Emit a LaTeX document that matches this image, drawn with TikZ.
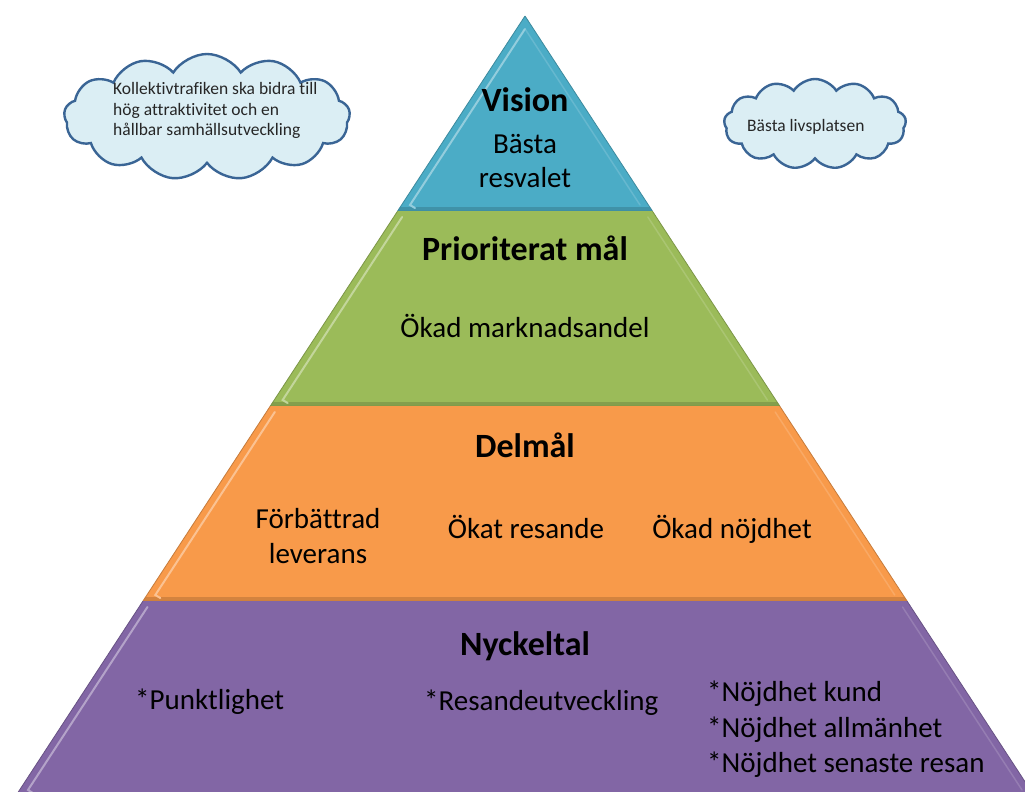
\documentclass[tikz,border=0pt]{standalone}
\usepackage{fontspec}
\setmainfont{Carlito}[Ligatures=NoCommon]
\usetikzlibrary{shapes.symbols}
\definecolor{vblue}{HTML}{4BACC6}
\definecolor{pgreen}{HTML}{9BBB59}
\definecolor{dorange}{HTML}{F89A4A}
\definecolor{npurple}{HTML}{8266A5}
\definecolor{cloudfill}{HTML}{DBEEF4}
\definecolor{cloudline}{HTML}{3A6595}
\definecolor{cloudtext}{HTML}{262626}
\newcommand\pyrlayer[3]{%
  \pgfmathsetmacro\pwA{0.653*(#1-16)}%
  \pgfmathsetmacro\pwB{0.653*(#2-16)}%
  \pgfmathsetmacro\pyA{max(#1+6,29)}%
  \pgfmathsetmacro\pyB{#2-6}%
  \pgfmathsetmacro\piA{max(0,0.653*(\pyA-16)-8.4)}%
  \pgfmathsetmacro\piB{0.653*(\pyB-16)-8.4}%
  \fill[#3] (525-\pwA,#1) -- (525+\pwA,#1) -- (525+\pwB,#2) -- (525-\pwB,#2) -- cycle;
  \fill[#3!85!black] (525-\pwB,#2) -- (525+\pwB,#2) -- (525+\pwB-2.6,#2-4) -- (525-\pwB+2.6,#2-4) -- cycle;
  \draw[#3!85!white, line width=1.5pt, line cap=round] (525+\piA,\pyA) -- (525+\piB,\pyB);
  \draw[#3!60!white, line width=2pt, line cap=round] (525-\piA,\pyA) -- (525-\piB,\pyB) -- (525-\piB+5,\pyB+3);
  \draw[#3!80!black, line width=0.8pt, line join=round] (525-\pwA,#1) -- (525-\pwB,#2) -- (525+\pwB,#2) -- (525+\pwA,#1);
}
\tikzset{
  hd/.style={font=\fontsize{34}{40}\selectfont\bfseries, text=black, inner sep=0pt, anchor=base},
  tx/.style={font=\fontsize{29}{35}\selectfont, text=black, inner sep=0pt, anchor=base},
  lst/.style={font=\fontsize{29}{35}\selectfont, text=black, inner sep=0pt, anchor=base west},
  cloudbox/.style={cloud, cloud puffs=13, cloud puff arc=115, draw=cloudline, fill=cloudfill, line width=2.4pt, inner sep=0pt},
  cloudtx/.style={font=\fontsize{17.5}{20.3}\selectfont, text=cloudtext, inner sep=0pt, anchor=base west}
}
\begin{document}
\begin{tikzpicture}[x=1pt,y=-1pt]
\useasboundingbox (0,0) rectangle (1025,792);
\fill[white] (0,0) rectangle (1025,792);
\begin{scope}
\clip (0,0) rectangle (1025,792);
\pyrlayer{16}{211}{vblue}
\pyrlayer{211}{406}{pgreen}
\pyrlayer{406}{601}{dorange}
\pyrlayer{601}{796}{npurple}
\end{scope}
% texts
\node[hd] (vision) at (525,111) {Vision};
\node[tx] (basta) at (525,153) {Bästa};
\node[tx] (resvalet) at (525,187) {resvalet};
\node[hd] (prio) at (525,260) {Prioriterat mål};
\node[tx] (okadmark) at (525,337) {Ökad marknadsandel};
\node[hd] (delmal) at (525,457) {Delmål};
\node[tx] (forbatt) at (318,528) {Förbättrad};
\node[tx] (leverans) at (318,563) {leverans};
\node[tx] (okatres) at (526,538) {Ökat resande};
\node[tx] (okadnoj) at (732,538) {Ökad nöjdhet};
\node[hd] (nyckel) at (525,655) {Nyckeltal};
\node[lst] (punkt) at (135,709) {*Punktlighet};
\node[lst] (resut) at (424,710) {*Resandeutveckling};
\node[lst] (nojdA) at (707,701) {*Nöjdhet kund};
\node[lst] (nojdB) at (707,737) {*Nöjdhet allmänhet};
\node[lst] (nojdC) at (707,772) {*Nöjdhet senaste resan};
% clouds
\node[cloudbox, minimum width=286pt, minimum height=126pt] (cloudL) at (207,117) {};
\node[cloudtx] (cloudLa) at (113,95) {Kollektivtrafiken ska bidra till};
\node[cloudtx] (cloudLb) at (113,115.3) {hög attraktivitet och en};
\node[cloudtx] (cloudLc) at (113,135.6) {hållbar samhällsutveckling};
\node[cloudbox, minimum width=182pt, minimum height=90pt] (cloudR) at (815,124) {};
\node[cloudtx] (cloudRtext) at (747,131.5) {Bästa livsplatsen};
\end{tikzpicture}
\end{document}
